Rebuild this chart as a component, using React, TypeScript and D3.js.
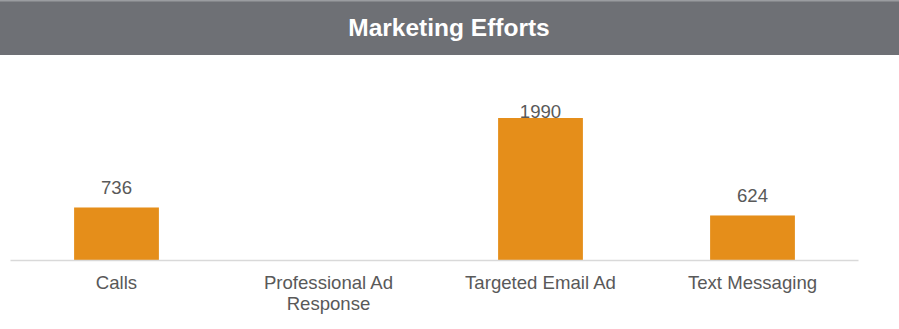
import React from "react";
import * as d3 from "d3";

const title = "Marketing Efforts";
const categories = ["Calls", "Professional Ad Response", "Targeted Email Ad", "Text Messaging"];
const categoryLines = [["Calls"], ["Professional Ad", "Response"], ["Targeted Email Ad"], ["Text Messaging"]];
const values: (number | null)[] = [736, null, 1990, 624];

const W = 899;
const H = 329;

export default function App() {
  const x = d3.scaleBand<string>().domain(categories).range([10.5, 858.5]).paddingInner(0.6).paddingOuter(0.3);
  const y = d3.scaleLinear().domain([0, 2000]).range([260, 117.3]);
  const font = "'Liberation Sans', Arial, sans-serif";
  return (
    <div style={{ position: "fixed", left: 0, top: 0 }}>
      <svg width={W} height={H} style={{ display: "block" }}>
        <rect x={0} y={0} width={W} height={H} fill="#fff" />
        <rect x={0} y={0} width={W} height={55} fill="#6e7075" />
        <rect x={0} y={0} width={W} height={1.5} fill="#9a9ca0" />
        <text x={449} y={36} textAnchor="middle" fill="#fff" fontFamily={font} fontWeight="bold" fontSize={24.5}>
          {title}
        </text>
        {categories.map((c, i) => {
          const v = values[i];
          if (v == null) return null;
          const bx = x(c)!;
          return (
            <g key={c}>
              <rect x={bx} y={y(v)} width={x.bandwidth()} height={y(0) - y(v)} fill="#e58e1a" />
              <text x={bx + x.bandwidth() / 2} y={Math.max(y(v) - 13, 118)} textAnchor="middle" fill="#595959" fontFamily={font} fontSize={18.6}>
                {v}
              </text>
            </g>
          );
        })}
        <line x1={10.5} x2={858.5} y1={260.5} y2={260.5} stroke="#d9d9d9" strokeWidth={1.5} />
        {categories.map((c, i) => (
          <text key={c} x={x(c)! + x.bandwidth() / 2} y={289} textAnchor="middle" fill="#595959" fontFamily={font} fontSize={18.6}>
            {categoryLines[i].map((l, j) => (
              <tspan key={j} x={x(c)! + x.bandwidth() / 2} dy={j === 0 ? 0 : 21}>
                {l}
              </tspan>
            ))}
          </text>
        ))}
      </svg>
    </div>
  );
}
